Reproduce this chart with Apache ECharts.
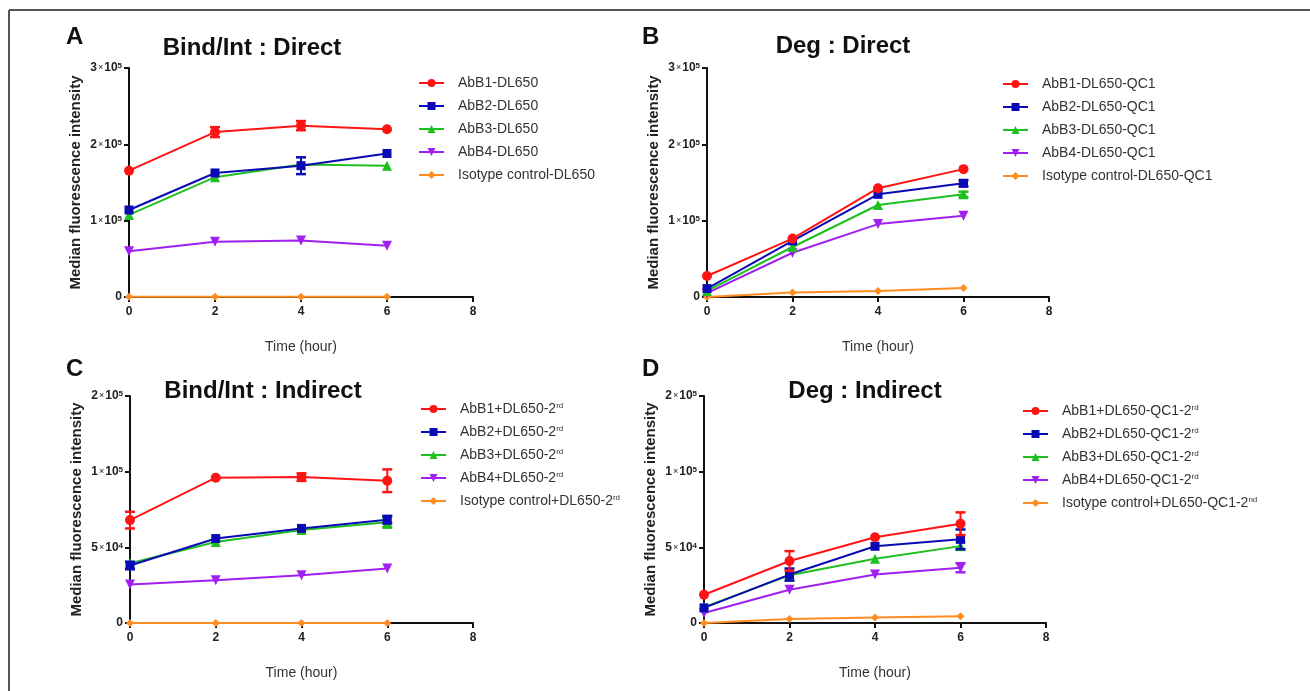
<!DOCTYPE html>
<html>
<head>
<meta charset="utf-8">
<script src="https://cdn.jsdelivr.net/npm/echarts@6/dist/echarts.min.js"></script>
<style>
html, body { margin: 0; padding: 0; background: #fff; }
#chart { width: 1310px; height: 691px; }
</style>
</head>
<body>
<div id="chart"></div>
<script>
// time points (hour)
const hours = [0, 2, 4, 6]
const xTicks = [0, 2, 4, 6, 8]

// A  Bind/Int : Direct
const aNames = ['AbB1-DL650', 'AbB2-DL650', 'AbB3-DL650', 'AbB4-DL650', 'Isotype control-DL650']
const aRed = [165500, 216000, 224500, 219700]
const aBlue = [114000, 162500, 172000, 188000]
const aGreen = [107500, 157000, 173500, 172000]
const aPurple = [60000, 72500, 74000, 67000]
const aOrange = [400, 400, 400, 400]
const aRedErr = [0, 6500, 6000, 0]
const aBlueErr = [0, 0, 11000, 0]

// B  Deg : Direct
const bNames = ['AbB1-DL650-QC1', 'AbB2-DL650-QC1', 'AbB3-DL650-QC1', 'AbB4-DL650-QC1', 'Isotype control-DL650-QC1']
const bRed = [27500, 76500, 142500, 167500]
const bBlue = [11000, 73500, 134500, 149000]
const bGreen = [8000, 65500, 120500, 134500]
const bPurple = [5000, 58000, 95500, 106500]
const bOrange = [0, 5800, 7900, 11800]
const bBlueErr = [0, 0, 0, 4000]
const bGreenErr = [0, 0, 0, 3500]

// C  Bind/Int : Indirect
const cNames = ['AbB1+DL650-2rd', 'AbB2+DL650-2rd', 'AbB3+DL650-2rd', 'AbB4+DL650-2rd', 'Isotype control+DL650-2rd']
const cRed = [68000, 96000, 96400, 94000]
const cBlue = [38000, 55800, 62500, 68300]
const cGreen = [39500, 53500, 61500, 66500]
const cPurple = [25400, 28200, 31500, 36000]
const cOrange = [0, 0, 0, 0]
const cRedErr = [5500, 0, 2500, 7500]
const cBlueErr = [2500, 0, 0, 2500]
const cGreenErr = [0, 0, 0, 3500]

// D  Deg : Indirect
const dNames = ['AbB1+DL650-QC1-2rd', 'AbB2+DL650-QC1-2rd', 'AbB3+DL650-QC1-2rd', 'AbB4+DL650-QC1-2rd', 'Isotype control+DL650-QC1-2nd']
const dRed = [18700, 41000, 56700, 65600]
const dBlue = [10000, 32000, 50700, 55300]
const dGreen = [10500, 31500, 42500, 50800]
const dPurple = [6600, 22000, 32000, 36500]
const dOrange = [0, 2600, 3700, 4500]
const dRedErr = [0, 6500, 0, 7500]
const dBlueErr = [0, 4000, 0, 6500]
const dGreenErr = [0, 0, 0, 2500]
const dPurpleErr = [0, 0, 0, 3000]

// y tick labels
const abTickLabels = ['0', '1×10^5', '2×10^5', '3×10^5']
const cdTickLabels = ['0', '5×10^4', '1×10^5', '2×10^5']

const colors = ['#ff1414', '#0a0ab4', '#1fbf1f', '#a020f0', '#ff8c1e']
const symbols = ['circle', 'rect', 'triangle', 'triangle', 'diamond']
const symbolSizes = [10, 9, 10, 10, 8]
const symbolRotates = [0, 0, 0, 180, 0]

const panels = [
  { names: aNames, values: [aRed, aBlue, aGreen, aPurple, aOrange], errs: [aRedErr, aBlueErr, null, null, null],
    grid: { left: 129, top: 68, width: 344, height: 229 }, max: 300000, interval: 100000, ticks: abTickLabels,
    legend: { left: 418, top: 76 }, title: 'Bind/Int : Direct', tx: 252, ty: 48, letter: 'A', lx: 66, ly: 37 },
  { names: bNames, values: [bRed, bBlue, bGreen, bPurple, bOrange], errs: [null, bBlueErr, bGreenErr, null, null],
    grid: { left: 707, top: 68, width: 342, height: 229 }, max: 300000, interval: 100000, ticks: abTickLabels,
    legend: { left: 1002, top: 77 }, title: 'Deg : Direct', tx: 843, ty: 46, letter: 'B', lx: 642, ly: 37 },
  { names: cNames, values: [cRed, cBlue, cGreen, cPurple, cOrange], errs: [cRedErr, cBlueErr, cGreenErr, null, null],
    grid: { left: 130, top: 396, width: 343, height: 227 }, max: 150000, interval: 50000, ticks: cdTickLabels,
    legend: { left: 420, top: 402 }, title: 'Bind/Int : Indirect', tx: 263, ty: 391, letter: 'C', lx: 66, ly: 369 },
  { names: dNames, values: [dRed, dBlue, dGreen, dPurple, dOrange], errs: [dRedErr, dBlueErr, dGreenErr, dPurpleErr, null],
    grid: { left: 704, top: 396, width: 342, height: 227 }, max: 150000, interval: 50000, ticks: cdTickLabels,
    legend: { left: 1022, top: 404 }, title: 'Deg : Indirect', tx: 865, ty: 391, letter: 'D', lx: 642, ly: 369 }
]

function tickRich (str) {
  if (str.indexOf('^') < 0) return '{b|' + str + '}'
  const parts = str.split('×10^')
  return '{b|' + parts[0] + '}{x|×}{b|10}{s|' + parts[1] + '}'
}

function legendRich (name) {
  const m = name.match(/^(.*-2)(rd|nd)$/)
  if (!m) return '{n|' + name + '}'
  return '{n|' + m[1] + '}{s|' + m[2] + '}'
}

const grids = []
const xAxes = []
const yAxes = []
const legends = []
const series = []
const graphics = [
  { type: 'line', shape: { x1: 9, y1: 10, x2: 1310, y2: 10 }, style: { stroke: '#555', lineWidth: 2 } },
  { type: 'line', shape: { x1: 9, y1: 10, x2: 9, y2: 691 }, style: { stroke: '#555', lineWidth: 2 } }
]

panels.forEach((p, i) => {
  grids.push(p.grid)
  xAxes.push({
    gridIndex: i,
    type: 'value',
    min: 0,
    max: 8,
    interval: 2,
    name: 'Time (hour)',
    nameLocation: 'middle',
    nameGap: 43,
    nameTextStyle: { color: '#333', fontSize: 14, fontFamily: 'Liberation Sans' },
    axisLine: { show: true, lineStyle: { color: '#111', width: 2 } },
    axisTick: { show: true, length: 5, lineStyle: { color: '#111', width: 2 } },
    axisLabel: { color: '#222', fontSize: 12, fontWeight: 'bold', margin: 9, fontFamily: 'Liberation Sans',
      customValues: xTicks },
    splitLine: { show: false }
  })
  yAxes.push({
    gridIndex: i,
    type: 'value',
    min: 0,
    max: p.max,
    interval: p.interval,
    name: 'Median fluorescence intensity',
    nameLocation: 'middle',
    nameGap: 46,
    nameTextStyle: { color: '#222', fontSize: 15, fontWeight: 'bold', fontFamily: 'Liberation Sans' },
    axisLine: { show: true, lineStyle: { color: '#111', width: 2 } },
    axisTick: { show: true, length: 5, lineStyle: { color: '#111', width: 2 } },
    axisLabel: {
      margin: 7,
      fontFamily: 'Liberation Sans',
      formatter: (v) => tickRich(p.ticks[Math.round(v / p.interval)] || ''),
      rich: {
        b: { fontSize: 12, fontWeight: 'bold', color: '#222', fontFamily: 'Liberation Sans' },
        x: { fontSize: 9, color: '#222', padding: [0, 1], fontFamily: 'Liberation Sans' },
        s: { fontSize: 8, fontWeight: 'bold', color: '#222', verticalAlign: 'top', fontFamily: 'Liberation Sans' }
      }
    },
    splitLine: { show: false }
  })
  legends.push({
    orient: 'vertical',
    left: p.legend.left,
    top: p.legend.top,
    padding: 0,
    data: p.names,
    itemWidth: 25,
    itemHeight: 10,
    itemGap: 9,
    selectedMode: false,
    formatter: legendRich,
    textStyle: {
      padding: [0, 0, 0, 9],
      rich: {
        n: { fontSize: 14, color: '#333', fontFamily: 'Liberation Sans' },
        s: { fontSize: 8, color: '#333', verticalAlign: 'top', fontFamily: 'Liberation Sans' }
      }
    }
  })
  p.values.forEach((vals, k) => {
    series.push({
      name: p.names[k],
      type: 'line',
      xAxisIndex: i,
      yAxisIndex: i,
      data: hours.map((h, j) => [h, vals[j]]),
      symbol: symbols[k],
      symbolSize: symbolSizes[k],
      symbolRotate: symbolRotates[k],
      lineStyle: { color: colors[k], width: 2 },
      itemStyle: { color: colors[k] },
      z: 10 - k
    })
    const err = p.errs[k]
    if (err) {
      series.push({
        name: 'err-' + p.names[k],
        type: 'custom',
        xAxisIndex: i,
        yAxisIndex: i,
        data: hours.map((h, j) => [h, vals[j] - err[j], vals[j] + err[j], err[j]]).filter(d => d[3] > 0),
        encode: { x: 0, y: [1, 2] },
        z: 10 - k,
        renderItem: (params, api) => {
          const lo = api.coord([api.value(0), api.value(1)])
          const hi = api.coord([api.value(0), api.value(2)])
          const w = 5
          return {
            type: 'group',
            children: [
              { type: 'line', shape: { x1: lo[0], y1: lo[1], x2: hi[0], y2: hi[1] }, style: { stroke: colors[k], lineWidth: 2 } },
              { type: 'line', shape: { x1: lo[0] - w, y1: lo[1], x2: lo[0] + w, y2: lo[1] }, style: { stroke: colors[k], lineWidth: 2.5 } },
              { type: 'line', shape: { x1: hi[0] - w, y1: hi[1], x2: hi[0] + w, y2: hi[1] }, style: { stroke: colors[k], lineWidth: 2.5 } }
            ]
          }
        }
      })
    }
  })
  graphics.push({
    type: 'text', x: p.tx, y: p.ty,
    style: { text: p.title, fontSize: 24, fontWeight: 'bold', fill: '#111', align: 'center', verticalAlign: 'middle', fontFamily: 'Liberation Sans' }
  })
  graphics.push({
    type: 'text', x: p.lx, y: p.ly,
    style: { text: p.letter, fontSize: 24, fontWeight: 'bold', fill: '#111', align: 'left', verticalAlign: 'middle', fontFamily: 'Liberation Sans' }
  })
})

const myChart = echarts.init(document.getElementById('chart'))
myChart.setOption({
  animation: false,
  backgroundColor: '#fff',
  grid: grids,
  xAxis: xAxes,
  yAxis: yAxes,
  legend: legends,
  series: series,
  graphic: graphics
})
</script>
</body>
</html>
